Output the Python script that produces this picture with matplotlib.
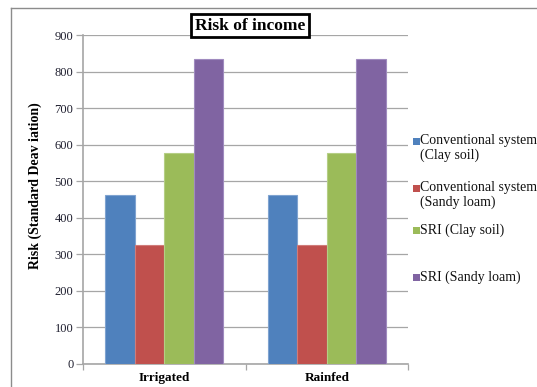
import matplotlib
matplotlib.use("Agg")
import matplotlib.pyplot as plt
import numpy as np
from matplotlib.patches import Rectangle
from matplotlib.lines import Line2D

# Data
categories = ["Irrigated", "Rainfed"]
series_labels = [
    "Conventional system\n(Clay soil)",
    "Conventional system\n(Sandy loam)",
    "SRI (Clay soil)",
    "SRI (Sandy loam)",
]
series_values = [
    [462, 462],
    [325, 325],
    [577, 577],
    [833, 833],
]
y_ticks = [0, 100, 200, 300, 400, 500, 600, 700, 800, 900]

colors = ["#4F81BD", "#C0504D", "#9BBB59", "#8064A2"]
edges = ["#7FA3D0", "#D07C7A", "#B5CE85", "#A08BBF"]

serif = ["Liberation Serif", "DejaVu Serif"]
plt.rcParams["font.family"] = serif

W, H = 537, 387
fig = plt.figure(figsize=(W / 100, H / 100), dpi=100)
fig.patch.set_facecolor("white")

ax = fig.add_axes([83 / W, 1 - 364 / H, (408 - 83) / W, (364 - 35) / H])

n = len(series_values)
bar_w = 1 / (n + 1.5)
x = np.arange(len(categories))
for i, (vals, c, e) in enumerate(zip(series_values, colors, edges)):
    offs = (i - (n - 1) / 2) * bar_w
    ax.bar(x + offs, vals, width=bar_w, color=c, edgecolor=e, linewidth=0.8, zorder=3)

ax.set_xlim(-0.5, len(categories) - 0.5)
ax.set_ylim(0, 900)
ax.set_yticks(y_ticks)
ax.set_yticklabels([str(v) for v in y_ticks], fontsize=9, color="#1F1F2F")
ax.yaxis.grid(True, color="#A6A6A6", linewidth=0.9, zorder=0)
ax.tick_params(axis="y", length=5, width=0.9, color="#A6A6A6", pad=2)

ax.set_xticks(x)
ax.set_xticklabels(categories, fontsize=9.5, fontweight="bold")
ax.set_xticks(np.arange(len(categories) + 1) - 0.5, minor=True)
ax.tick_params(axis="x", which="major", length=0, pad=6)
ax.tick_params(axis="x", which="minor", length=4, width=0.9, color="#A6A6A6")

for s in ["top", "right"]:
    ax.spines[s].set_visible(False)
for s in ["left", "bottom"]:
    ax.spines[s].set_color("#A6A6A6")
    ax.spines[s].set_linewidth(1.2)

ax.set_ylabel("Risk (Standard Deav iation)", fontsize=10, fontweight="bold")
ax.yaxis.set_label_coords((35 - 83) / (408 - 83), (364 - 185.5) / (364 - 35))
ax.yaxis.label.set_va("center")

# Title in a boxed frame
fig.text(250 / W, 1 - 25.5 / H, "Risk of income", ha="center", va="center",
         fontsize=12.5, fontweight="bold",
         bbox=dict(boxstyle="square,pad=0.2", facecolor="white",
                   edgecolor="black", linewidth=2.0))

# Legend entries
legend_y = [148, 195, 230, 277]
for lab, c, ly in zip(series_labels, colors, legend_y):
    first_line_y = ly - (lab.count("\n")) * 6.8
    fig.patches.append(Rectangle((413 / W, 1 - (first_line_y + 3.5) / H), 7 / W, 7 / H,
                                 transform=fig.transFigure, facecolor=c,
                                 edgecolor="none", figure=fig))
    fig.text(420.5 / W, 1 - ly / H, lab, ha="left", va="center", fontsize=10,
             color="#111111", linespacing=1.15)

# Outer chart frame (left and top edges)
fig.add_artist(Line2D([11 / W, 11 / W], [0, 1 - 8 / H], transform=fig.transFigure,
                      color="#8C8C8C", linewidth=1.0))
fig.add_artist(Line2D([11 / W, 1], [1 - 8 / H, 1 - 8 / H], transform=fig.transFigure,
                      color="#8C8C8C", linewidth=1.0))

fig.savefig("out.png", dpi=100)
